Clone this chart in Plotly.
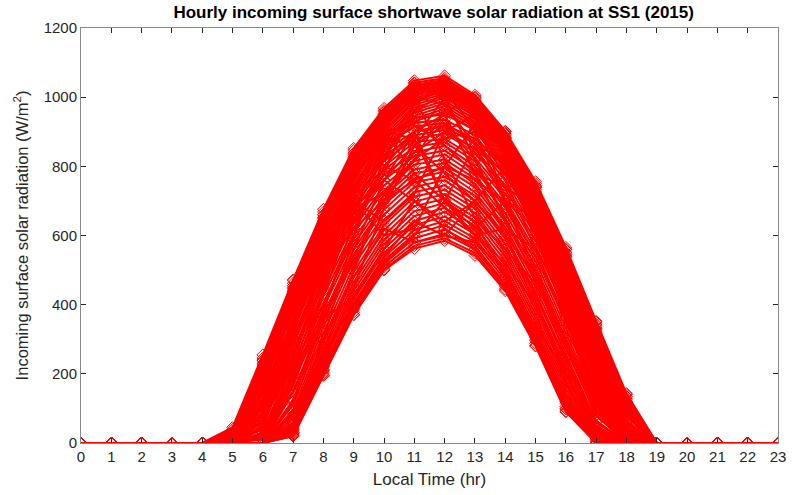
import plotly.graph_objects as go

# Hour of day (local time) and tick labels
hours = list(range(24))
x_tick_labels = [str(h) for h in hours]
y_tick_values = [0, 200, 400, 600, 800, 1000, 1200]

# Night hours are zero radiation on every day
night_before = [0, 0, 0, 0, 0]        # hours 0-4
night_after = [0, 0, 0, 0, 0]         # hours 19-23

# Daytime values (W/m2) for hours 5..18, grouped by sky condition
clear_days = [
    [45, 255, 472, 676, 852, 968, 1048, 1062, 1006, 902, 756, 566, 352, 143],
    [40, 246, 462, 668, 846, 962, 1042, 1055, 1000, 896, 750, 560, 345, 135],
    [35, 238, 455, 660, 838, 958, 1036, 1050, 997, 893, 744, 552, 336, 126],
    [30, 228, 446, 652, 832, 952, 1032, 1046, 992, 888, 738, 545, 326, 118],
    [24, 216, 436, 644, 826, 948, 1028, 1042, 988, 884, 732, 538, 316, 108],
    [18, 204, 424, 636, 818, 942, 1024, 1040, 985, 880, 726, 530, 305, 98],
    [12, 190, 412, 626, 810, 936, 1020, 1036, 982, 876, 720, 522, 294, 88],
    [8, 176, 398, 614, 802, 930, 1015, 1032, 978, 870, 712, 512, 282, 76],
    [4, 160, 384, 602, 794, 924, 1010, 1028, 974, 865, 705, 502, 270, 64],
    [0, 142, 368, 590, 785, 918, 1004, 1024, 970, 860, 698, 492, 256, 52],
    [0, 124, 352, 576, 776, 912, 998, 1020, 966, 855, 690, 482, 242, 40],
    [0, 104, 334, 562, 766, 904, 992, 1016, 962, 850, 682, 470, 228, 30],
    [0, 84, 316, 548, 756, 896, 986, 1010, 956, 844, 674, 458, 214, 20],
    [0, 62, 296, 532, 744, 888, 978, 1004, 950, 838, 665, 446, 198, 12],
    [0, 42, 276, 516, 732, 880, 970, 998, 944, 830, 656, 432, 182, 5],
    [0, 24, 256, 500, 720, 872, 962, 990, 936, 822, 646, 418, 166, 0],
    [0, 10, 236, 484, 708, 862, 955, 982, 928, 814, 636, 404, 150, 0],
    [0, 0, 214, 466, 694, 852, 946, 974, 920, 806, 626, 390, 134, 0],
    [0, 0, 192, 448, 680, 842, 938, 966, 912, 798, 616, 376, 118, 0],
    [0, 0, 170, 430, 666, 832, 930, 958, 904, 790, 606, 362, 100, 0],
]
partly_cloudy_days = [
    [20, 200, 410, 600, 770, 880, 940, 950, 905, 800, 650, 470, 280, 90],
    [10, 185, 395, 590, 765, 885, 925, 935, 890, 780, 640, 455, 265, 75],
    [0, 165, 380, 575, 745, 860, 915, 925, 870, 775, 625, 440, 250, 60],
    [0, 150, 360, 560, 735, 845, 900, 915, 865, 760, 610, 425, 235, 45],
    [0, 130, 345, 545, 720, 830, 890, 905, 850, 745, 600, 410, 220, 35],
    [0, 110, 325, 530, 700, 815, 880, 895, 840, 735, 585, 395, 205, 25],
    [0, 90, 305, 510, 685, 800, 870, 880, 825, 720, 570, 380, 190, 15],
    [0, 70, 285, 495, 670, 790, 855, 870, 815, 705, 555, 365, 170, 5],
    [0, 50, 265, 475, 650, 775, 840, 860, 800, 690, 540, 350, 155, 0],
    [0, 30, 245, 460, 635, 760, 830, 845, 790, 680, 525, 335, 140, 0],
    [0, 15, 225, 440, 620, 745, 815, 835, 775, 665, 510, 320, 125, 0],
    [0, 0, 205, 425, 605, 730, 805, 820, 765, 650, 495, 305, 110, 0],
    [0, 0, 185, 405, 590, 715, 790, 810, 750, 640, 480, 290, 95, 0],
    [0, 0, 165, 390, 575, 700, 780, 795, 740, 625, 465, 275, 80, 0],
    [0, 0, 145, 370, 560, 690, 765, 785, 725, 615, 450, 260, 65, 0],
    [0, 0, 125, 350, 545, 675, 755, 770, 715, 600, 435, 245, 50, 0],
]
cloudy_days = [
    [0, 0, 110, 335, 530, 660, 740, 760, 700, 590, 425, 235, 45, 0],
    [0, 0, 95, 318, 512, 645, 725, 745, 690, 575, 410, 220, 35, 0],
    [0, 0, 82, 302, 495, 630, 712, 732, 678, 562, 398, 208, 28, 0],
    [0, 0, 70, 288, 480, 615, 698, 720, 665, 550, 385, 195, 20, 0],
    [0, 0, 60, 275, 465, 600, 685, 706, 652, 538, 372, 182, 12, 0],
    [0, 0, 52, 262, 452, 588, 670, 694, 640, 525, 360, 170, 5, 0],
    [0, 0, 45, 250, 440, 575, 656, 680, 628, 512, 348, 158, 0, 0],
    [0, 0, 40, 240, 428, 562, 642, 668, 615, 500, 336, 146, 0, 0],
    [0, 0, 35, 230, 416, 550, 630, 655, 604, 490, 325, 135, 0, 0],
    [0, 0, 30, 220, 405, 538, 616, 642, 592, 480, 315, 125, 0, 0],
    [0, 0, 27, 212, 395, 528, 604, 630, 582, 470, 305, 115, 0, 0],
    [0, 0, 24, 205, 386, 518, 592, 618, 570, 460, 296, 106, 0, 0],
    [0, 0, 22, 200, 378, 510, 580, 605, 560, 452, 288, 98, 0, 0],
    [0, 0, 20, 196, 372, 502, 570, 592, 550, 445, 282, 92, 0, 0],
    [0, 0, 20, 195, 370, 500, 562, 585, 542, 440, 280, 90, 0, 0],
]
variable_days = [
    [0, 120, 400, 640, 820, 900, 780, 700, 860, 820, 600, 380, 150, 0],
    [10, 200, 450, 600, 700, 640, 720, 900, 950, 700, 500, 300, 90, 0],
    [0, 60, 250, 480, 760, 950, 1000, 820, 650, 560, 460, 300, 120, 0],
    [0, 0, 80, 300, 600, 850, 980, 1030, 900, 700, 480, 250, 60, 0],
    [30, 230, 420, 500, 620, 800, 900, 700, 600, 620, 560, 420, 200, 40],
    [0, 90, 330, 560, 680, 720, 820, 960, 990, 880, 700, 500, 300, 100],
    [0, 40, 200, 380, 520, 700, 880, 1000, 980, 850, 720, 540, 330, 120],
    [20, 240, 470, 660, 800, 880, 860, 780, 700, 600, 480, 300, 100, 0],
    [0, 150, 420, 620, 700, 600, 620, 800, 920, 860, 740, 520, 280, 60],
    [0, 20, 150, 350, 560, 760, 900, 950, 780, 600, 400, 200, 20, 0],
    [0, 100, 300, 520, 730, 900, 880, 700, 620, 700, 650, 480, 260, 30],
    [5, 180, 380, 500, 640, 780, 980, 1040, 940, 760, 560, 350, 140, 10],
    [0, 0, 60, 260, 500, 720, 840, 900, 850, 780, 680, 520, 320, 110],
    [0, 50, 280, 520, 680, 760, 700, 640, 700, 800, 720, 500, 220, 0],
    [15, 210, 440, 650, 820, 920, 1000, 980, 860, 700, 540, 360, 160, 20],
    [0, 70, 220, 400, 600, 820, 960, 1010, 970, 880, 740, 550, 340, 130],
    [0, 0, 120, 380, 640, 800, 760, 680, 600, 520, 400, 220, 40, 0],
    [0, 130, 360, 580, 780, 940, 1040, 1000, 820, 640, 480, 300, 120, 0],
    [0, 30, 180, 360, 540, 700, 820, 880, 900, 860, 740, 560, 350, 140],
    [25, 220, 400, 560, 700, 820, 900, 920, 880, 800, 680, 520, 300, 80],
    [0, 0, 40, 220, 450, 680, 860, 960, 1000, 900, 700, 460, 200, 10],
    [0, 110, 340, 540, 660, 760, 860, 920, 820, 650, 470, 280, 80, 0],
    [0, 80, 300, 500, 620, 700, 760, 800, 760, 700, 620, 500, 300, 80],
    [0, 160, 400, 620, 800, 900, 920, 860, 780, 740, 680, 540, 330, 120],
    [0, 0, 30, 210, 390, 540, 640, 600, 580, 500, 320, 120, 0, 0],
    [0, 0, 90, 260, 400, 520, 600, 700, 640, 480, 300, 100, 0, 0],
    [0, 20, 200, 360, 420, 560, 700, 620, 560, 460, 340, 200, 30, 0],
    [0, 0, 150, 300, 480, 620, 580, 600, 700, 600, 420, 180, 10, 0],
]

RED = '#ff0000'
AXIS = '#262626'
FONT = 'Liberation Sans, Arial, Helvetica, sans-serif'

fig = go.Figure()
for day in clear_days + partly_cloudy_days + cloudy_days + variable_days:
    fig.add_trace(go.Scatter(
        x=hours, y=night_before + day + night_after,
        mode='lines+markers',
        line=dict(color=RED, width=2),
        marker=dict(symbol='diamond-open', size=9, color=RED, line=dict(width=1, color=RED)),
        showlegend=False, hoverinfo='skip'))

axis_common = dict(
    showline=True, mirror='ticks', linecolor='#8a8a8a', linewidth=1,
    ticks='inside', ticklen=5, tickcolor=AXIS, tickwidth=1,
    showgrid=False, zeroline=False,
    tickfont=dict(family=FONT, size=15, color=AXIS),
)

fig.update_layout(
    width=795, height=495,
    margin=dict(l=81, r=9, t=28, b=51),
    paper_bgcolor='white', plot_bgcolor='white',
    title=dict(text='<b>Hourly incoming surface shortwave solar radiation at SS1 (2015)</b>',
               x=0.5455, xanchor='center', y=0.975, yanchor='middle',
               font=dict(family=FONT, size=17, color='black')),
    xaxis=dict(range=[0, 23], tickmode='array', tickvals=hours, ticktext=x_tick_labels,
               title=dict(text='Local Time (hr)', standoff=9,
                          font=dict(family=FONT, size=17, color=AXIS)),
               **axis_common),
    yaxis=dict(range=[0, 1200], tickmode='array', tickvals=y_tick_values,
               title=dict(text='Incoming surface solar radiation (W/m<sup>2</sup>)', standoff=10,
                          font=dict(family=FONT, size=16.5, color=AXIS)),
               **axis_common),
)

fig.write_html("out.html", config={'displayModeBar': False},
               post_script="document.body.style.margin = '0';")
